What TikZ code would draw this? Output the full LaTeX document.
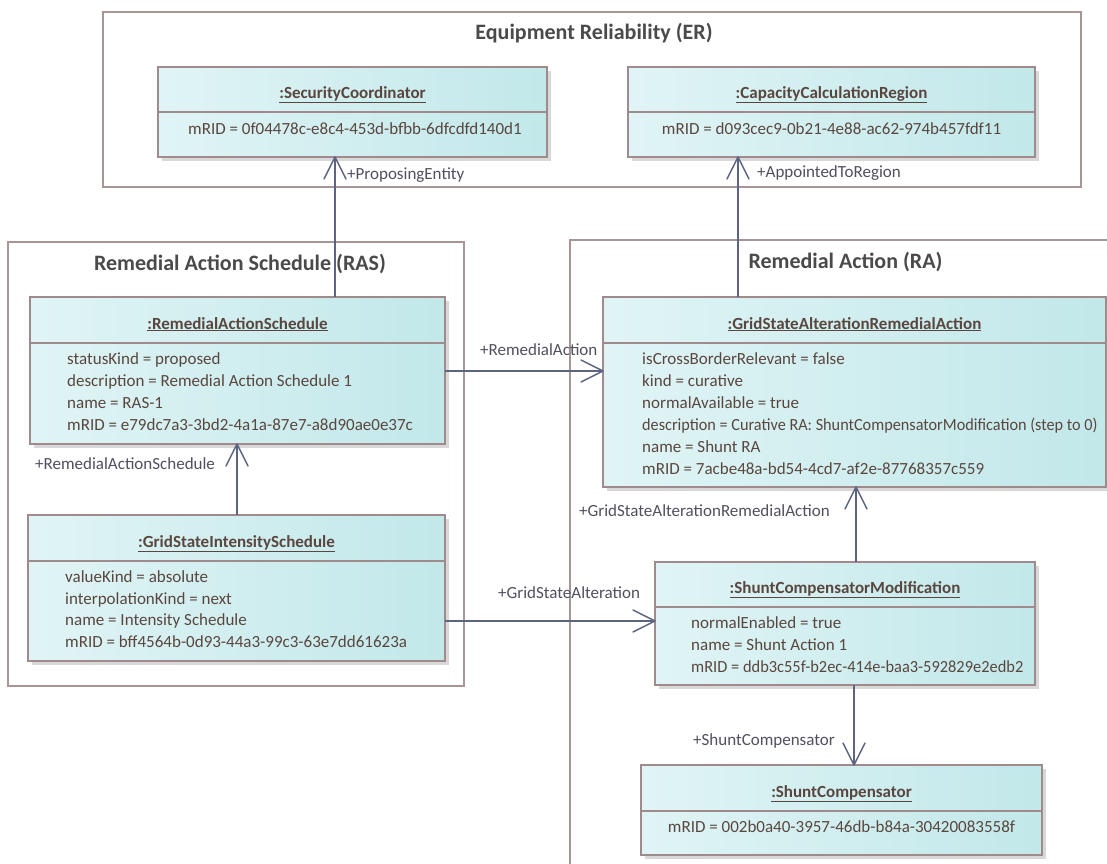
\documentclass[tikz,border=0pt]{standalone}
\usepackage{fontspec}
\setmainfont{Carlito}
\usetikzlibrary{arrows.meta,shadows}
\definecolor{boxL}{HTML}{E0F4F5}
\definecolor{boxR}{HTML}{C2E8EA}
\definecolor{boxline}{HTML}{A08A8C}
\definecolor{frameline}{HTML}{A89696}
\definecolor{conn}{HTML}{5C6482}
\definecolor{txt}{HTML}{5A463E}
\definecolor{ttl}{HTML}{4A4A4A}
\definecolor{lbl}{HTML}{505060}
\pgfdeclarearrow{
  name = OpenV,
  parameters = {\the\pgfarrowlength,\the\pgfarrowwidth},
  setup code = {
    \pgfarrowssettipend{0pt}
    \pgfarrowssetlineend{-1pt}
    \pgfarrowssetbackend{-\pgfarrowlength}
    \pgfarrowssavethe\pgfarrowlength
    \pgfarrowssavethe\pgfarrowwidth
  },
  drawing code = {
    \pgfsetroundjoin
    \pgfsetroundcap
    \pgfpathmoveto{\pgfqpoint{-\pgfarrowlength}{0.5\pgfarrowwidth}}
    \pgfpathlineto{\pgfqpoint{0pt}{0pt}}
    \pgfpathlineto{\pgfqpoint{-\pgfarrowlength}{-0.5\pgfarrowwidth}}
    \pgfusepathqstroke
  },
  defaults = {length = 22pt, width = 22pt}
}
\newcommand\umlobj[7]{%
  \node[objbox, minimum width={#4-#2}, minimum height={#5-#3}] (#1) at (#2,#3) {};
  \draw[boxline, line width=1.4pt] (#1.west |- 0,#6) -- (#1.east |- 0,#6);
  \node[objtitle, anchor=base] (#1-t) at ({(#2+#4)/2},#6-14) {\underline{#7}};
}
\begin{document}
\begin{tikzpicture}[x=1pt,y=-1pt,
  objbox/.style={draw=boxline, line width=1.4pt, left color=boxL, right color=boxR,
    anchor=north west, inner sep=0pt, outer sep=0pt,
    drop shadow={shadow xshift=3.5pt, shadow yshift=-3.5pt, fill=black!30, opacity=0.5}},
  frame/.style={draw=frameline, line width=1.2pt, anchor=north west, inner sep=0pt, outer sep=0pt},
  frametitle/.style={text=ttl, font=\fontsize{22}{26}\selectfont\bfseries, inner sep=0pt},
  objtitle/.style={text=txt, font=\fontsize{17}{22}\selectfont\bfseries, inner sep=0pt},
  attr/.style={text=txt, font=\fontsize{17}{22}\selectfont, inner sep=0pt},
  lab/.style={text=lbl, font=\fontsize{17}{22}\selectfont, inner sep=0pt, anchor=west},
  conn/.style={draw=conn, line width=1.5pt, -{OpenV[length=22pt,width=22pt]}}
]
\useasboundingbox (0,0) rectangle (1107,863);
\clip (0,0) rectangle (1107,863);
\fill[white] (0,0) rectangle (1107,863);

% frames
\node[frame, minimum width=978, minimum height=175] (er) at (103,12) {};
\node[frametitle, anchor=base] (er-t) at (594,39) {Equipment Reliability (ER)};
\node[frame, minimum width=456, minimum height=444] (rasf) at (8,242) {};
\node[frametitle, anchor=base] (rasf-t) at (240,270) {Remedial Action Schedule (RAS)};
\node[frame, minimum width=560, minimum height=660] (raf) at (570,240) {};
\node[frametitle, anchor=base] (raf-t) at (845.5,268) {Remedial Action (RA)};

% objects
\umlobj{sc}{158}{67}{547}{157}{112}{:SecurityCoordinator}
\node[attr, anchor=base] (sc-a1) at (355,134) {mRID = 0f04478c-e8c4-453d-bfbb-6dfcdfd140d1};

\umlobj{ccr}{628}{67}{1035}{157}{112}{:CapacityCalculationRegion}
\node[attr, anchor=base] (ccr-a1) at (831.5,134) {mRID = d093cec9-0b21-4e88-ac62-974b457fdf11};

\umlobj{ras}{30}{297}{445}{444}{343}{:RemedialActionSchedule}
\node[attr, anchor=base west] (ras-a1) at (67,364) {statusKind = proposed};
\node[attr, anchor=base west] (ras-a2) at (67,386) {description = Remedial Action Schedule 1};
\node[attr, anchor=base west] (ras-a3) at (67,408) {name = RAS-1};
\node[attr, anchor=base west] (ras-a4) at (67,430) {mRID = e79dc7a3-3bd2-4a1a-87e7-a8d90ae0e37c};

\umlobj{gsis}{28}{515}{445}{661}{561}{:GridStateIntensitySchedule}
\node[attr, anchor=base west] (gsis-a1) at (65,582) {valueKind = absolute};
\node[attr, anchor=base west] (gsis-a2) at (65,604) {interpolationKind = next};
\node[attr, anchor=base west] (gsis-a3) at (65,625) {name = Intensity Schedule};
\node[attr, anchor=base west] (gsis-a4) at (65,647) {mRID = bff4564b-0d93-44a3-99c3-63e7dd61623a};

\umlobj{gsara}{603}{297}{1106}{487}{343}{:GridStateAlterationRemedialAction}
\node[attr, anchor=base west] (gsara-a1) at (642,364) {isCrossBorderRelevant = false};
\node[attr, anchor=base west] (gsara-a2) at (642,386) {kind = curative};
\node[attr, anchor=base west] (gsara-a3) at (642,408) {normalAvailable = true};
\node[attr, anchor=base west] (gsara-a4) at (642,430) {\scalebox{0.955}[1]{description = Curative RA: ShuntCompensatorModification (step to 0)}};
\node[attr, anchor=base west] (gsara-a5) at (642,452) {name = Shunt RA};
\node[attr, anchor=base west] (gsara-a6) at (642,474) {mRID = 7acbe48a-bd54-4cd7-af2e-87768357c559};

\umlobj{scm}{655}{562}{1035}{685}{607}{:ShuntCompensatorModification}
\node[attr, anchor=base west] (scm-a1) at (691,628) {normalEnabled = true};
\node[attr, anchor=base west] (scm-a2) at (691,650) {name = Shunt Action 1};
\node[attr, anchor=base west] (scm-a3) at (691,672) {\scalebox{0.965}[1]{mRID = ddb3c55f-b2ec-414e-baa3-592829e2edb2}};

\umlobj{shc}{641}{765}{1042}{855}{811}{:ShuntCompensator}
\node[attr, anchor=base] (shc-a1) at (841.5,832) {mRID = 002b0a40-3957-46db-b84a-30420083558f};

% connector positions
\coordinate (x1) at (335,0);
\coordinate (x2) at (738,0);
\coordinate (y3) at (0,371);
\coordinate (x4) at (237,0);
\coordinate (y5) at (0,621);
\coordinate (x6) at (856,0);
\coordinate (x7) at (854,0);

\draw[conn] (ras.north -| x1) -- (sc.south -| x1);
\draw[conn] (gsara.north -| x2) -- (ccr.south -| x2);
\draw[conn] (ras.east |- y3) -- (gsara.west |- y3);
\draw[conn] (gsis.north -| x4) -- (ras.south -| x4);
\draw[conn] (gsis.east |- y5) -- (scm.west |- y5);
\draw[conn] (scm.north -| x6) -- (gsara.south -| x6);
\draw[conn] (scm.south -| x7) -- (shc.north -| x7);

% labels
\node[lab] (l1) at (347,175) {+ProposingEntity};
\node[lab] (l2) at (757,173) {+AppointedToRegion};
\node[lab] (l3) at (480,350) {+RemedialAction};
\node[lab] (l4) at (35,464) {+RemedialActionSchedule};
\node[lab] (l5) at (498,593) {+GridStateAlteration};
\node[lab] (l6) at (579,511) {+GridStateAlterationRemedialAction};
\node[lab] (l7) at (693,741) {+ShuntCompensator};
\end{tikzpicture}
\end{document}
